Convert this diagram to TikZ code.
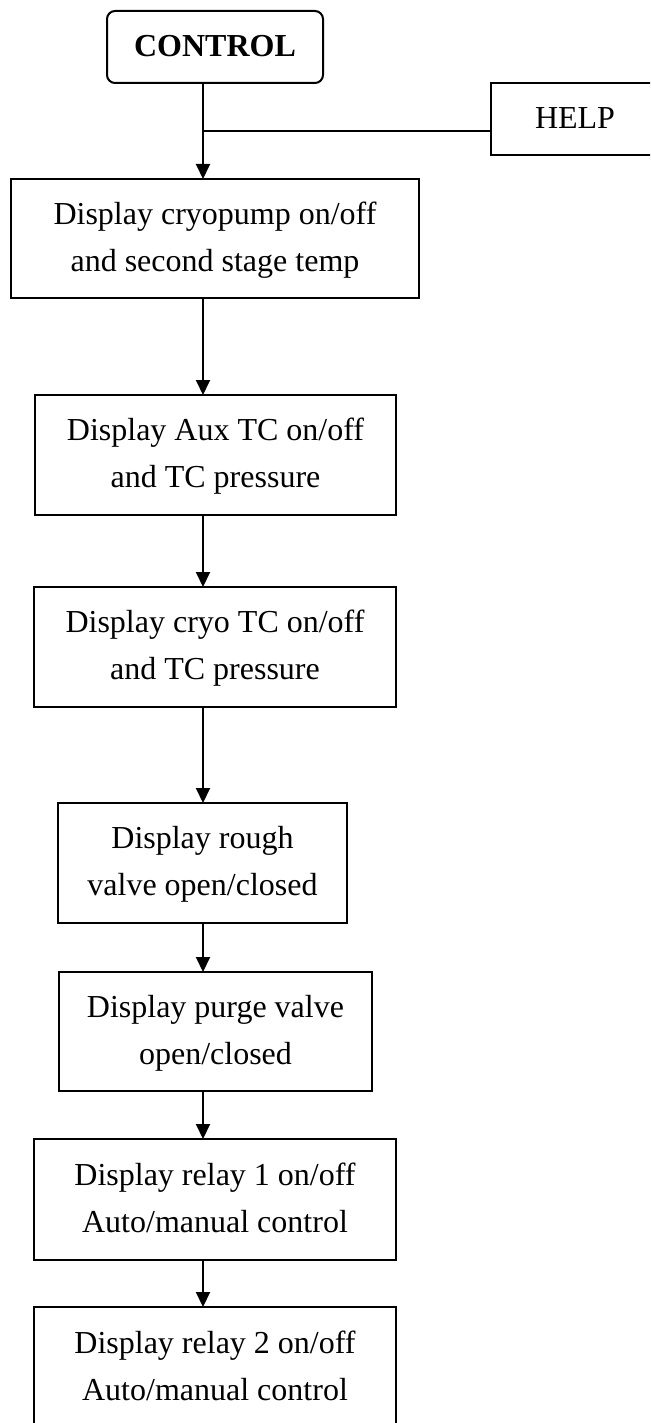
\documentclass[tikz,border=0pt]{standalone}
\usepackage{fontspec}
\setmainfont{Liberation Serif}
\usetikzlibrary{arrows.meta}
\newcommand{\twoline}[2]{\strut #1\\\strut #2}
\begin{document}
\begin{tikzpicture}[x=1pt,y=-1pt,
  every node/.style={inner sep=0pt, outer sep=0pt, align=center,
    font=\fontsize{32}{47}\selectfont},
  box/.style={draw, line width=2pt},
  wire/.style={line width=2pt},
  arr/.style={line width=2pt, -{Triangle[length=15pt,width=14pt]}}]
  \useasboundingbox (0,0) rectangle (650,1423);
  \clip (0,0) rectangle (650,1423);

  % title and help boxes
  \node[box, rounded corners=8pt, minimum width=216pt, minimum height=72pt,
        font=\fontsize{32}{47}\selectfont\bfseries] (ctrl) at (215,47) {\strut CONTROL};
  \node[box, minimum width=168pt, minimum height=72pt] (help) at (575,119) {\strut HELP};

  % display steps
  \node[box, minimum width=408pt, minimum height=119pt] (b1) at (215,238.5)
    {\twoline{Display cryopump on/off}{and second stage temp}};
  \node[box, minimum width=361pt, minimum height=120pt] (b2) at (215.5,455)
    {\twoline{Display Aux TC on/off}{and TC pressure}};
  \node[box, minimum width=362pt, minimum height=120pt] (b3) at (215,647)
    {\twoline{Display cryo TC on/off}{and TC pressure}};
  \node[box, minimum width=289pt, minimum height=120pt] (b4) at (202.5,863)
    {\twoline{Display rough}{valve open/closed}};
  \node[box, minimum width=313pt, minimum height=119pt] (b5) at (215.5,1031.5)
    {\twoline{Display purge valve}{open/closed}};
  \node[box, minimum width=362pt, minimum height=121pt] (b6) at (215,1199.5)
    {\twoline{Display relay 1 on/off}{Auto/manual control}};
  \node[box, minimum width=362pt, minimum height=121pt] (b7) at (215,1367.5)
    {\twoline{Display relay 2 on/off}{Auto/manual control}};

  % main flow line and branch to HELP
  \coordinate (spine) at (203,0);
  \coordinate (branch) at (203,131);
  \draw[arr] (ctrl.south -| spine) -- (b1.north -| spine);
  \draw[wire] (branch) -- (branch -| help.west);
  \draw[arr] (b1.south -| spine) -- (b2.north -| spine);
  \draw[arr] (b2.south -| spine) -- (b3.north -| spine);
  \draw[arr] (b3.south -| spine) -- (b4.north -| spine);
  \draw[arr] (b4.south -| spine) -- (b5.north -| spine);
  \draw[arr] (b5.south -| spine) -- (b6.north -| spine);
  \draw[arr] (b6.south -| spine) -- (b7.north -| spine);
\end{tikzpicture}
\end{document}
